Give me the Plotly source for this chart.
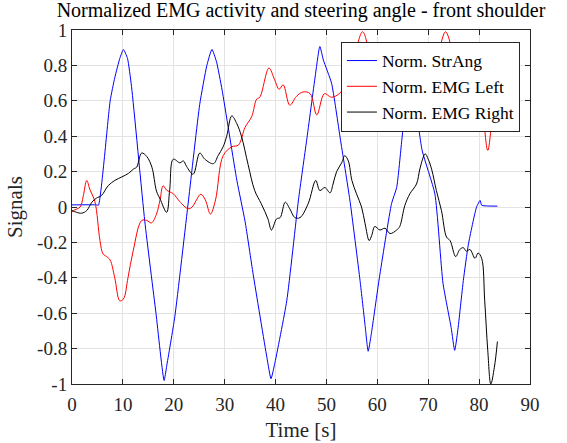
import plotly.graph_objects as go

# ---- data ----
t_str = [0, 4.85, 5.2, 7.5, 8.4, 9.4, 10.1, 10.9, 11.7, 14.3, 16.5, 18.1, 18.6, 20.2, 22.9, 25.1, 26.5,
         27.5, 28.4, 29.5, 32.4, 34, 35.6, 38.3, 39.1, 39.8, 42.2, 44.5, 46.1, 47.8, 48.7, 49.4, 51, 52.7,
         54.6, 56.6, 57.6, 58.2, 58.8, 60.4, 62.8, 63.8, 64.8, 65.6, 66.5, 67.4, 68.8, 71.3, 72.9, 74.5,
         75.2, 75.8, 76.9, 77.9, 79.5, 80.2, 80.5, 83.6]
str_ang = [0.012, 0.012, 0.01, 0.60, 0.73, 0.84, 0.89, 0.84, 0.68, -0.08, -0.6, -0.98, -0.9, -0.62, 0.04,
           0.58, 0.80, 0.89, 0.82, 0.66, 0.15, -0.08, -0.38, -0.85, -0.97, -0.89, -0.53, 0.04, 0.375, 0.74,
           0.907, 0.83, 0.70, 0.39, 0.04, -0.415, -0.67, -0.815, -0.72, -0.40, 0.02, 0.11, 0.376, 0.6, 0.76,
           0.6, 0.32, 0.075, -0.43, -0.68, -0.81, -0.7, -0.415, -0.21, 0.0, 0.037, 0.01, 0.005]

t_left = [0, 0.3, 1.6, 2.2, 2.9, 3.5, 4.5, 5.5, 6.1, 6.8, 7.5, 8.4, 9.4, 10.1, 11, 12, 13.7, 14.7, 15.6,
          16.6, 17.3, 17.9, 18.6, 19.9, 21.2, 22.8, 23.6, 25.3, 26.2, 27.2, 28.2, 29.7, 31.4, 32.7, 34,
          35.3, 36.3, 36.9, 38.7, 39.8, 40.7, 41.5, 42.8, 44.1, 45.4, 46.8, 48.1, 49.6, 51, 52.5, 54,
          55.5, 57.1, 58.6, 60, 62, 64, 66, 68, 70, 72, 73.4, 74.8, 76, 78, 79.5, 80.6, 81.7, 82.8, 83.6]
emg_left = [-0.03, -0.02, 0.0, 0.06, 0.15, 0.10, 0.03, -0.19, -0.265, -0.28, -0.30, -0.40, -0.53, -0.52,
            -0.40, -0.25, -0.076, -0.076, -0.09, -0.04, 0.04, 0.12, 0.095, 0.075, 0.03, -0.01, 0.0, 0.072,
            0.04, -0.04, 0.04, 0.29, 0.34, 0.35, 0.45, 0.51, 0.61, 0.62, 0.785, 0.72, 0.665, 0.69, 0.575,
            0.625, 0.65, 0.64, 0.52, 0.64, 0.62, 0.64, 0.70, 0.85, 0.99, 0.85, 0.70, 0.67, 0.70, 0.72,
            0.75, 0.78, 0.88, 0.99, 0.88, 0.78, 0.72, 0.65, 0.55, 0.32, 0.55, 0.62]

t_right = [0, 0.9, 1.9, 2.9, 3.9, 4.8, 5.8, 7.1, 8.4, 9.8, 11.1, 12.1, 12.7, 13.7, 14.7, 15.7, 16.6, 17.3,
           18.6, 19.2, 19.9, 21.2, 21.9, 22.5, 23.8, 25.1, 26.1, 27.8, 28.7, 29.7, 30.4, 31.4, 32.4, 33.3,
           34.6, 35.9, 37.2, 38.5, 39.2, 40.2, 40.9, 41.9, 42.8, 43.8, 44.8, 46.4, 47.9, 48.7, 49.7, 50.7,
           51.3, 52, 53, 53.6, 54.3, 55, 55.9, 56.9, 57.6, 58.4, 58.9, 59.5, 60.5, 61.5, 62.5, 63.8, 64.4,
           65.4, 66.4, 67.7, 68.4, 69.4, 70, 70.7, 71.6, 72.6, 73.6, 74.3, 75.4, 76.2, 76.9, 77.5, 78.2,
           79.2, 79.8, 80.5, 81.1, 81.7, 82.3, 83, 83.6]
emg_right = [-0.02, -0.03, -0.035, -0.02, 0.027, 0.05, 0.065, 0.12, 0.15, 0.17, 0.19, 0.215, 0.225, 0.305,
             0.285, 0.225, 0.09, 0.046, -0.03, 0.10, 0.27, 0.25, 0.26, 0.23, 0.185, 0.305, 0.27, 0.245, 0.29,
             0.34, 0.40, 0.515, 0.47, 0.40, 0.24, 0.093, 0.018, -0.067, -0.13, -0.067, -0.06, 0.027, -0.01,
             -0.06, -0.06, 0.018, 0.15, 0.093, 0.11, 0.08, 0.13, 0.20, 0.25, 0.29, 0.26, 0.15, 0.075, 0.0,
             -0.095, -0.19, -0.16, -0.11, -0.13, -0.12, -0.15, -0.13, -0.11, 0.008, 0.075, 0.13, 0.22, 0.30,
             0.27, 0.21, 0.093, -0.02, -0.17, -0.19, -0.28, -0.24, -0.23, -0.25, -0.24, -0.29, -0.26, -0.29,
             -0.53, -0.81, -1.0, -0.905, -0.76]

x_ticks = [0, 10, 20, 30, 40, 50, 60, 70, 80, 90]
y_ticks = [1, 0.8, 0.6, 0.4, 0.2, 0, -0.2, -0.4, -0.6, -0.8, -1]
y_ticktext = ["1", "0.8", "0.6", "0.4", "0.2", "0", "-0.2", "-0.4", "-0.6", "-0.8", "-1"]

FONT = "Liberation Serif"
AX = "#262626"

fig = go.Figure()
fig.add_trace(go.Scatter(x=t_str, y=str_ang, mode="lines", name="Norm. StrAng",
                         line=dict(color="#0000ff", width=1, shape="spline", smoothing=0.5)))
fig.add_trace(go.Scatter(x=t_left, y=emg_left, mode="lines", name="Norm. EMG Left",
                         line=dict(color="#ff0000", width=1, shape="spline", smoothing=1)))
fig.add_trace(go.Scatter(x=t_right, y=emg_right, mode="lines", name="Norm. EMG Right",
                         line=dict(color="#000000", width=1, shape="spline", smoothing=1)))

axis_common = dict(showline=True, linecolor=AX, linewidth=1, mirror="ticks", ticks="inside",
                   ticklen=5, tickcolor=AX, showgrid=True, gridcolor="#e3e3e3", gridwidth=1,
                   zeroline=False, automargin=False, tickfont=dict(family=FONT, size=19, color=AX))

fig.update_layout(
    width=567, height=443,
    margin=dict(l=72, r=37, t=30, b=59),
    paper_bgcolor="white", plot_bgcolor="white",
    title=dict(text="Normalized EMG activity and steering angle - front shoulder",
               font=dict(family=FONT, size=20, color="#000000"),
               x=0.5, xanchor="center", xref="paper", y=0.993, yanchor="top"),
    xaxis=dict(range=[0, 90], tickvals=x_ticks, ticklabelstandoff=3,
               title=dict(text="Time [s]", font=dict(family=FONT, size=21, color=AX), standoff=8),
               **axis_common),
    yaxis=dict(range=[-1, 1], tickvals=y_ticks, ticktext=y_ticktext,
               title=dict(text="Signals", font=dict(family=FONT, size=21, color=AX), standoff=8),
               **axis_common),
    legend=dict(x=0.978, y=0.967, xanchor="right", yanchor="top", bgcolor="white",
                bordercolor=AX, borderwidth=1, font=dict(family=FONT, size=17.5, color="#000000"),
                tracegroupgap=0, itemwidth=30),
    showlegend=True,
)

fig.write_html("out.html")
